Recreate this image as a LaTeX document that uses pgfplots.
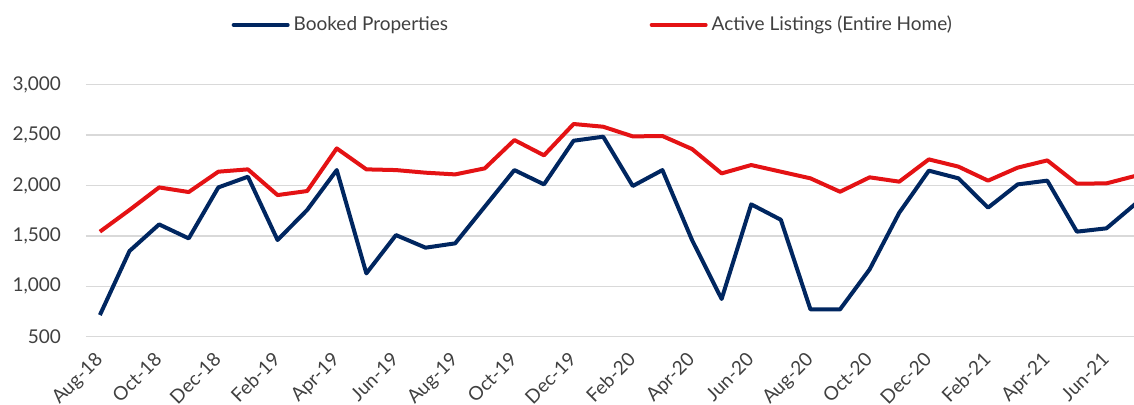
\documentclass[border=0pt]{standalone}
\usepackage{fontspec}
\setmainfont{Lato}
\usepackage{pgfplots}
\pgfplotsset{compat=1.18}

\definecolor{navyline}{RGB}{0,38,96}
\definecolor{redline}{RGB}{228,18,20}
\definecolor{gridgray}{RGB}{217,217,217}
\definecolor{labelgray}{RGB}{64,64,64}

\begin{document}
\begin{tikzpicture}
\begin{axis}[
    scale only axis,
    width=524pt, height=126pt,
    xmin=-0.47, xmax=34.93,
    ymin=500, ymax=3000,
    ytick={500,1000,...,3000},
    xtick={0,2,...,34},
    xticklabels={Aug-18,Oct-18,Dec-18,Feb-19,Apr-19,Jun-19,Aug-19,Oct-19,Dec-19,
                 Feb-20,Apr-20,Jun-20,Aug-20,Oct-20,Dec-20,Feb-21,Apr-21,Jun-21},
    ymajorgrids,
    major grid style={draw=gridgray, line width=0.75pt},
    axis line style={draw=none},
    major tick length=0pt,
    /pgf/number format/assume math mode=true,
    /pgf/number format/1000 sep={,},
    tick label style={font=\fontsize{9.5}{11}\selectfont, text=labelgray},
    yticklabel style={xshift=-9pt},
    xticklabel style={xshift=-3pt, yshift=-7pt, rotate=45, anchor=north east, inner sep=0pt},
    legend style={at={(0.139,1.237)}, anchor=west, draw=none, fill=none,
        inner sep=0pt, outer sep=0pt,
        font=\fontsize{9.5}{11}\selectfont, text=labelgray,
        legend columns=2,
        /tikz/every even column/.append style={column sep=99pt}},
    legend cell align=left,
    legend image code/.code={\draw[#1, line cap=round] (0pt,0pt) -- (27pt,0pt);},
    line join=round,
]
\coordinate (sw) at (rel axis cs:0,0);
\coordinate (ne) at (rel axis cs:1,1);

\addplot[navyline, line width=2pt] coordinates {
 (0,715) (1,1350) (2,1614) (3,1475) (4,1981) (5,2087) (6,1459) (7,1757)
 (8,2153) (9,1128) (10,1508) (11,1383) (12,1426) (13,1790) (14,2153) (15,2011)
 (16,2444) (17,2484) (18,1995) (19,2153) (20,1459) (21,874) (22,1813) (23,1660)
 (24,771) (25,771) (26,1168) (27,1730) (28,2147) (29,2071) (30,1780) (31,2011)
 (32,2048) (33,1542) (34,1575) (35,1823)};
\addlegendentry{\makebox[77pt][l]{Booked Properties}}

\addplot[redline, line width=2pt] coordinates {
 (0,1542) (1,1757) (2,1981) (3,1935) (4,2137) (5,2160) (6,1905) (7,1945)
 (8,2368) (9,2160) (10,2153) (11,2127) (12,2110) (13,2170) (14,2451) (15,2299)
 (16,2610) (17,2583) (18,2487) (19,2491) (20,2362) (21,2120) (22,2203) (23,2137)
 (24,2071) (25,1938) (26,2081) (27,2038) (28,2259) (29,2187) (30,2048) (31,2177)
 (32,2249) (33,2018) (34,2021) (35,2097)};
\addlegendentry{Active Listings (Entire Home)}
\end{axis}
\pgfresetboundingbox
\path ([shift={(-43pt,-34.15pt)}]sw) rectangle ([shift={(0pt,42.35pt)}]ne);
\end{tikzpicture}
\end{document}
